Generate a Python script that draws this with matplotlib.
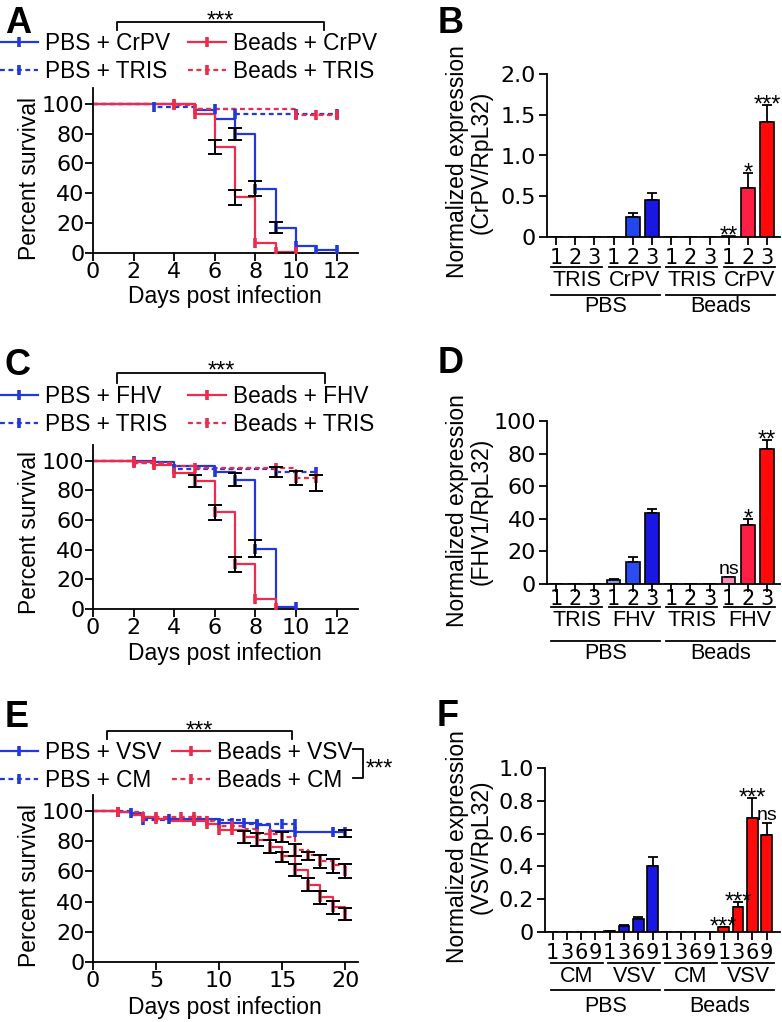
# coding: utf-8
import numpy as np
import matplotlib
matplotlib.use("Agg")
import matplotlib.pyplot as plt
import matplotlib.lines as mlines
from matplotlib import transforms

plt.rcParams["font.family"] = ["Liberation Sans", "DejaVu Sans"]

#=== Panel A : survival, CrPV ===
a_pbs_crpv_t = [0, 5, 6, 7, 8, 9, 10, 11, 12]
a_pbs_crpv_s = [100, 95.5, 89.5, 79.7, 43, 16.8, 4.5, 1.8, 1.8]
a_pbs_crpv_cens = [7, 8, 9, 10, 11, 12]
a_pbs_crpv_err = ([7, 8, 9], [79.7, 43.2, 17.0], [4.2, 4.8, 3.8])
a_beads_crpv_t = [0, 5, 6, 7, 8, 9, 10]
a_beads_crpv_s = [100, 92.8, 70.9, 37.4, 6.7, 1.0, 1.0]
a_beads_crpv_cens = [4, 5, 8, 9, 10]
a_beads_crpv_err = ([6, 7], [70.9, 37.2], [4.5, 4.8])
a_pbs_tris_t = [0, 3, 5, 7, 12]
a_pbs_tris_s = [100, 97.8, 96.2, 93, 93]
a_pbs_tris_cens = [3, 6, 7, 10, 12]
a_beads_tris_t = [0, 4, 5, 10, 12]
a_beads_tris_s = [100, 99.3, 96.2, 92.2, 92.2]
a_beads_tris_cens = [4, 5, 10, 11, 12]

#=== Panel C : survival, FHV ===
c_pbs_fhv_t = [0, 3, 4, 6, 7, 8, 9, 10]
c_pbs_fhv_s = [100, 99, 96.2, 92.4, 86.6, 40.7, 1.1, 1.1]
c_pbs_fhv_cens = [2, 3, 6, 7, 8, 10]
c_pbs_fhv_err = ([7, 8], [87, 40.6], [4.3, 5.9])
c_beads_fhv_t = [0, 2, 3, 4, 5, 6, 7, 8, 9]
c_beads_fhv_s = [100, 99, 97.3, 91.3, 86.1, 65.3, 30.2, 6.7, 0.4]
c_beads_fhv_cens = [2, 3, 4, 5, 6, 7, 8, 9]
c_beads_fhv_err = ([5, 6, 7], [86.1, 65, 29.8], [3.9, 5.0, 4.9])
c_pbs_tris_t = [0, 2, 4, 9, 11]
c_pbs_tris_s = [100, 98.5, 94.4, 92.4, 92.4]
c_pbs_tris_cens = [4, 9, 11]
c_pbs_tris_err = ([9], [92.4], [3.4])
c_beads_tris_t = [0, 2, 4, 5, 10, 11]
c_beads_tris_s = [100, 98.5, 96.2, 95.1, 88.4, 88.4]
c_beads_tris_cens = [2, 3, 5, 9, 10, 11]
c_beads_tris_err = ([10, 11], [88.1, 85], [4.7, 5.6])

#=== Panel E : survival, VSV ===
e_pbs_vsv_t = [0, 2, 3, 4, 5, 10, 13, 14, 16, 20]
e_pbs_vsv_s = [100, 99.3, 98.7, 95, 94.3, 92, 90.5, 87, 86, 86]
e_pbs_vsv_cens = [2, 3, 6, 10, 11, 12, 13, 16, 19, 20]
e_pbs_vsv_err = ([20], [85.2], [2.4])
e_pbs_cm_t = [0, 3, 4, 12, 16]
e_pbs_cm_s = [100, 97.5, 93.8, 91.6, 91.6]
e_pbs_cm_cens = [4, 8, 13, 15, 16]
e_beads_vsv_t = [0, 2, 3, 4, 5, 6, 8, 9, 10, 12, 13, 14, 15, 16, 17, 18, 19, 20]
e_beads_vsv_s = [100, 99, 97.5, 96, 94.5, 93.6, 93, 91, 87.5, 83, 81, 76, 70, 61, 51, 43, 36.6, 32]
e_beads_vsv_cens = [2, 4, 5, 8, 9, 10, 11, 12, 13, 14, 15, 16, 17, 18, 19, 20]
e_beads_vsv_err = ([12, 13, 14, 15, 16, 17, 18, 19, 20],
                   [83, 81, 76.5, 69.5, 60.9, 51.2, 42.7, 36.1, 31.6],
                   [4.0, 4.4, 4.4, 3.6, 4.2, 4.4, 4.1, 4.2, 3.9])
e_beads_cm_t = [0, 2, 4, 9, 10, 12, 13, 15, 16, 17, 18, 19, 20]
e_beads_cm_s = [100, 99.5, 96, 93, 90, 87.8, 85, 82.5, 74, 71, 67, 64, 60]
e_beads_cm_cens = [2, 4, 5, 7, 8, 9, 11, 13, 14, 15, 16, 17, 18, 19, 20]
e_beads_cm_err = ([15, 16, 17, 18, 19, 20], [82.5, 74.2, 70, 66.5, 63.6, 60.1],
                  [3.3, 3.8, 2.8, 4.0, 4.4, 4.5])

#=== Panel B : CrPV/RpL32 ===
b_ticks = ["1", "2", "3"] * 4
b_values = [0, 0, 0, 0, 0.24, 0.45, 0, 0, 0, 0.01, 0.60, 1.41]
b_errors = [0, 0, 0, 0, 0.06, 0.095, 0, 0, 0, 0, 0.185, 0.205]
b_sig = [""] * 9 + ["**", "*", "***"]
b_sub = ["TRIS", "CrPV", "TRIS", "CrPV"]
b_yticks = [0, 0.5, 1.0, 1.5, 2.0]
b_ylabels = ["0", "0.5", "1.0", "1.5", "2.0"]

#=== Panel D : FHV1/RpL32 ===
d_ticks = ["1", "2", "3"] * 4
d_values = [0, 0, 0, 2.6, 13.8, 43.5, 0, 0, 0, 4.0, 35.9, 82.8]
d_errors = [0, 0, 0, 0.4, 2.7, 2.6, 0, 0, 0, 0.4, 4.1, 5.6]
d_sig = [""] * 9 + ["ns", "*", "**"]
d_sub = ["TRIS", "FHV", "TRIS", "FHV"]
d_yticks = [0, 20, 40, 60, 80, 100]
d_ylabels = ["0", "20", "40", "60", "80", "100"]

#=== Panel F : VSV/RpL32 ===
f_ticks = ["1", "3", "6", "9"] * 4
f_values = [0, 0, 0, 0, 0.004, 0.035, 0.079, 0.40, 0, 0, 0, 0, 0.028, 0.150, 0.695, 0.589]
f_errors = [0, 0, 0, 0, 0.002, 0.005, 0.01, 0.06, 0, 0, 0, 0, 0.003, 0.03, 0.12, 0.076]
f_sig = [""] * 12 + ["***", "***", "***", "ns"]
f_sub = ["CM", "VSV", "CM", "VSV"]
f_yticks = [0, 0.2, 0.4, 0.6, 0.8, 1.0]
f_ylabels = ["0", "0.2", "0.4", "0.6", "0.8", "1.0"]

groups = ["PBS", "Beads"]

#=== Styles ===
W, H = 782, 1022
BLUE = "#2338dc"
RED = "#ec2c4a"
TICKFONT = "DejaVu Sans"
b_colors = ["white"] * 4 + ["#2346ee", "#1818e2"] + ["white"] * 4 + ["#ff1f45", "#ff0a0a"]
d_colors = ["white"] * 3 + ["#8c95e8", "#2b4cf0", "#1818e2"] + ["white"] * 3 + ["#f48cbc", "#ff1f45", "#ff0a0a"]
f_colors = ["white"] * 4 + ["#1818e2"] * 4 + ["white"] * 4 + ["#ff0a0a"] * 4


def fy(py):
    return 1 - py / H


def add_axes_px(fig, left, top, right, bottom):
    """Create axes from pixel box (origin top-left)."""
    return fig.add_axes([left / W, 1 - bottom / H, (right - left) / W, (bottom - top) / H])


def style_axes(ax):
    for s in ["top", "right"]:
        ax.spines[s].set_visible(False)
    for s in ["left", "bottom"]:
        ax.spines[s].set_linewidth(1.3)
    ax.tick_params(direction="out", width=1.3)


def plot_survival(ax, curves):
    """Kaplan-Meier style step curves with censor ticks and error bars."""
    for c in curves:
        t, s = np.asarray(c["t"]), np.asarray(c["s"])
        ax.step(t, s, where="post", color=c["color"], ls=c["ls"], lw=1.6, zorder=2)
        cens = np.asarray(c["cens"])
        idx = np.searchsorted(t, cens, side="right") - 1
        ax.plot(cens, s[idx], ls="none", marker="|", ms=7, mew=2.6, color=c["color"], zorder=3)
    for c in curves:
        if c.get("err") is not None:
            et, em, ee = c["err"]
            ax.errorbar(et, em, yerr=ee, fmt="none", ecolor="black", elinewidth=1.4,
                        capsize=5, capthick=1.4, zorder=4)


def survival_panel(fig, box, curves, xmax, xticks):
    ax = add_axes_px(fig, *box)
    plot_survival(ax, curves)
    ax.set_xlim(0, xmax)
    ax.set_ylim(0, 110.5)
    style_axes(ax)
    ax.set_xticks(xticks)
    ax.set_xticklabels([str(v) for v in xticks], fontfamily=TICKFONT, fontsize=16)
    yt = list(range(0, 101, 20))
    ax.set_yticks(yt)
    ax.set_yticklabels([str(v) for v in yt], fontfamily=TICKFONT, fontsize=16)
    ax.tick_params(axis="x", length=6, pad=0.5)
    ax.tick_params(axis="y", length=5.5, pad=0.5)
    return ax


def legend_px(fig, curves, labels, x_px, top_px):
    handles = [mlines.Line2D([], [], color=c["color"], ls=c["ls"], lw=1.6, marker="|", ms=7, mew=2.6)
               for c in curves]
    fig.legend(handles, labels, loc="upper left", bbox_to_anchor=(x_px / W, fy(top_px)),
               frameon=False, borderpad=0, borderaxespad=0, handlelength=1.7,
               handletextpad=0.3, labelspacing=0.21, fontsize=16.3)


def bracket_px(fig, x0, x1, y, y_leg, stars, star_base):
    fig.add_artist(mlines.Line2D([x0 / W, x0 / W, x1 / W, x1 / W], [fy(y_leg), fy(y), fy(y), fy(y_leg)],
                                color="black", lw=1.3, transform=fig.transFigure))
    fig.text((x0 + x1) / 2 / W, fy(star_base), stars, ha="center", va="baseline", fontsize=17)


def bar_panel(fig, box, values, errors, colors, ticks, sig, ylim, yticks, ylabels, width, xlim, xpad):
    ax = add_axes_px(fig, *box)
    x = np.arange(len(values))
    ax.bar(x, values, width=width, color=colors, edgecolor="black", linewidth=1.2, zorder=2)
    values, errors = np.asarray(values), np.asarray(errors)
    m = errors > 0
    ax.errorbar(x[m], values[m], yerr=[np.zeros(m.sum()), errors[m]], fmt="none", ecolor="black",
                elinewidth=1.3, capsize=3.5, capthick=1.3, zorder=1)
    for xi, v, e, s in zip(x, values, errors, sig):
        if not s:
            continue
        off = 2 if s == "ns" else -4.5
        ax.annotate(s, (xi, v + e), xytext=(0, off), textcoords="offset points", ha="center",
                    va="baseline", fontsize=14 if s == "ns" else 17, annotation_clip=False)
    ax.set_xlim(*xlim)
    ax.set_ylim(*ylim)
    style_axes(ax)
    ax.set_xticks(x)
    ax.set_xticklabels(ticks, fontfamily=TICKFONT, fontsize=15)
    ax.set_yticks(yticks)
    ax.set_yticklabels(ylabels, fontfamily=TICKFONT, fontsize=16)
    ax.tick_params(axis="x", length=6, pad=xpad)
    ax.tick_params(axis="y", length=6, pad=2)
    return ax


def group_labels(fig, ax, sub, n_per, rows, start_off, end_off):
    """Two-level category labels under a bar chart (rows in pixel y)."""
    y_line1, y_text1, y_line2, y_text2 = rows
    trans = transforms.blended_transform_factory(ax.transData, fig.transFigure)
    for i, lab in enumerate(sub):
        x0, x1 = i * n_per + start_off, i * n_per + n_per - 1 + end_off
        fig.add_artist(mlines.Line2D([x0, x1], [fy(y_line1)] * 2, color="black", lw=1.3, transform=trans))
        fig.text((x0 + x1) / 2, fy(y_text1), lab, ha="center", va="center", fontsize=15.5, transform=trans)
    for i, lab in enumerate(groups):
        x0, x1 = i * 2 * n_per + start_off, (i + 1) * 2 * n_per - 1 + end_off
        fig.add_artist(mlines.Line2D([x0, x1], [fy(y_line2)] * 2, color="black", lw=1.3, transform=trans))
        fig.text((x0 + x1) / 2, fy(y_text2), lab, ha="center", va="center", fontsize=15.5, transform=trans)


def curve(t, s, cens, color, ls, err=None):
    return {"t": t, "s": s, "cens": cens, "color": color, "ls": ls, "err": err}


fig = plt.figure(figsize=(W / 100, H / 100), dpi=100, facecolor="white")
DASH = (0, (2.2, 1.6))

#=== A ===
curves_a = [curve(a_pbs_crpv_t, a_pbs_crpv_s, a_pbs_crpv_cens, BLUE, "-", a_pbs_crpv_err),
            curve(a_pbs_tris_t, a_pbs_tris_s, a_pbs_tris_cens, BLUE, DASH),
            curve(a_beads_crpv_t, a_beads_crpv_s, a_beads_crpv_cens, RED, "-", a_beads_crpv_err),
            curve(a_beads_tris_t, a_beads_tris_s, a_beads_tris_cens, RED, DASH)]
survival_panel(fig, (93, 88, 358, 253), curves_a, 13.05, list(range(0, 13, 2)))
legend_px(fig, curves_a[:2], ["PBS + CrPV", "PBS + TRIS"], 0, 32)
legend_px(fig, curves_a[2:], ["Beads + CrPV", "Beads + TRIS"], 188, 32)
bracket_px(fig, 117, 324, 22, 30, "***", 28)

#=== C ===
curves_c = [curve(c_pbs_fhv_t, c_pbs_fhv_s, c_pbs_fhv_cens, BLUE, "-", c_pbs_fhv_err),
            curve(c_pbs_tris_t, c_pbs_tris_s, c_pbs_tris_cens, BLUE, DASH, c_pbs_tris_err),
            curve(c_beads_fhv_t, c_beads_fhv_s, c_beads_fhv_cens, RED, "-", c_beads_fhv_err),
            curve(c_beads_tris_t, c_beads_tris_s, c_beads_tris_cens, RED, DASH, c_beads_tris_err)]
survival_panel(fig, (93, 445, 358, 609), curves_c, 13.05, list(range(0, 13, 2)))
legend_px(fig, curves_c[:2], ["PBS + FHV", "PBS + TRIS"], 0, 385)
legend_px(fig, curves_c[2:], ["Beads + FHV", "Beads + TRIS"], 188, 385)
bracket_px(fig, 117, 325, 373, 383, "***", 378)

#=== E ===
curves_e = [curve(e_pbs_vsv_t, e_pbs_vsv_s, e_pbs_vsv_cens, BLUE, "-", e_pbs_vsv_err),
            curve(e_pbs_cm_t, e_pbs_cm_s, e_pbs_cm_cens, BLUE, DASH),
            curve(e_beads_vsv_t, e_beads_vsv_s, e_beads_vsv_cens, RED, "-", e_beads_vsv_err),
            curve(e_beads_cm_t, e_beads_cm_s, e_beads_cm_cens, RED, DASH, e_beads_cm_err)]
survival_panel(fig, (93, 795, 358, 962), curves_e, 21, list(range(0, 21, 5)))
legend_px(fig, curves_e[:2], ["PBS + VSV", "PBS + CM"], 0, 741)
legend_px(fig, curves_e[2:], ["Beads + VSV", "Beads + CM"], 172, 741)
bracket_px(fig, 107, 292, 731, 739, "***", 738)
fig.add_artist(mlines.Line2D([353 / W, 363 / W, 363 / W, 353 / W], [fy(749), fy(749), fy(778), fy(778)],
                             color="black", lw=1.3, transform=fig.transFigure))
fig.text(366 / W, fy(776), "***", ha="left", va="baseline", fontsize=17)

for yc in [178, 532, 885]:
    fig.text(30 / W, fy(yc), "Percent survival", rotation=90, ha="center", va="center", fontsize=16.5)
for yc in [297, 653, 1007]:
    fig.text(225 / W, fy(yc), "Days post infection", ha="center", va="center", fontsize=16.5)

#=== B ===
ax_b = bar_panel(fig, (547, 74, 780, 237), b_values, b_errors, b_colors, b_ticks, b_sig,
                 (0, 2.0), b_yticks, b_ylabels, 0.7, (-0.47, 11.67), 2)
group_labels(fig, ax_b, b_sub, 3, (267, 280, 295, 307), -0.25, 0.4)

#=== D ===
ax_d = bar_panel(fig, (547, 421, 780, 584), d_values, d_errors, d_colors, d_ticks, d_sig,
                 (0, 100), d_yticks, d_ylabels, 0.7, (-0.47, 11.67), -2.3)
group_labels(fig, ax_d, d_sub, 3, (607, 620, 641, 653), -0.25, 0.4)

#=== F ===
ax_f = bar_panel(fig, (545, 768, 780, 932), f_values, f_errors, f_colors, f_ticks, f_sig,
                 (0, 1.0), f_yticks, f_ylabels, 0.75, (-0.54, 15.94), 2)
group_labels(fig, ax_f, f_sub, 4, (963, 976, 990, 1006), -0.1, 0.5)

for yc, lab in [(162, "CrPV/RpL32"), (511, "FHV1/RpL32"), (847, "VSV/RpL32")]:
    fig.text(469 / W, fy(yc), "Normalized expression\n(%s)" % lab, rotation=90, ha="center",
             va="center", fontsize=16.5, linespacing=1.05, multialignment="center")

#=== Panel letters ===
for x, yb, letter in [(5, 33, "A"), (438, 33, "B"), (5, 375, "C"), (438, 373, "D"),
                      (5, 727, "E"), (437, 726, "F")]:
    fig.text(x / W, fy(yb), letter, ha="left", va="baseline", fontsize=26, fontweight="bold")

fig.savefig("out.png", dpi=100)
